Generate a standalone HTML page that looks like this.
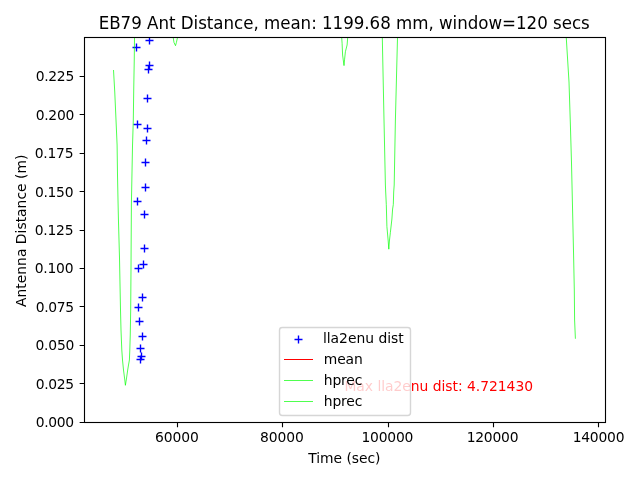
<!DOCTYPE html>
<html lang="en"><head><meta charset="utf-8"><title>EB79 Ant Distance</title>
<style>html,body{margin:0;padding:0;background:#fff;overflow:hidden}svg{display:block}text{font-family:"DejaVu Sans", "Liberation Sans", sans-serif;fill:#000}.t10{font-size:13.889px}.t12{font-size:16.667px}</style></head><body>
<svg width="640" height="480" viewBox="0 0 640 480">
<rect x="0" y="0" width="640" height="480" fill="#fff"/>
<defs><clipPath id="ax"><rect x="83.778" y="37.333" width="521.576" height="384.389"/></clipPath></defs>
<g clip-path="url(#ax)">
<path d="M145.50 40.50h8.000M149.50 36.50v8.000M132.50 47.50h8.000M136.50 43.50v8.000M145.50 65.50h8.000M149.50 61.50v8.000M144.50 69.50h8.000M148.50 65.50v8.000M143.50 98.50h8.000M147.50 94.50v8.000M133.50 124.50h8.000M137.50 120.50v8.000M143.50 128.50h8.000M147.50 124.50v8.000M142.50 140.50h8.000M146.50 136.50v8.000M141.50 162.50h8.000M145.50 158.50v8.000M141.50 187.50h8.000M145.50 183.50v8.000M133.50 201.50h8.000M137.50 197.50v8.000M140.50 214.50h8.000M144.50 210.50v8.000M140.50 248.50h8.000M144.50 244.50v8.000M139.50 264.50h8.000M143.50 260.50v8.000M134.50 268.50h8.000M138.50 264.50v8.000M138.50 297.50h8.000M142.50 293.50v8.000M134.50 307.50h8.000M138.50 303.50v8.000M135.50 321.50h8.000M139.50 317.50v8.000M138.50 336.50h8.000M142.50 332.50v8.000M136.50 348.50h8.000M140.50 344.50v8.000M137.50 356.50h8.000M141.50 352.50v8.000M136.50 359.50h8.000M140.50 355.50v8.000" stroke="#0000ff" stroke-width="1.389" fill="none"/>
<polyline points="113.50,70.00 114.75,92.00 116.00,120.00 117.10,145.00 117.50,175.00 118.00,200.00 118.40,218.00 119.50,258.00 120.50,310.00 121.00,330.00 121.80,350.00 122.50,360.00 123.50,370.00 124.80,380.00 125.40,385.30 126.25,380.00 127.70,370.00 128.50,365.00 129.40,360.00 129.80,350.00 130.25,335.00 130.70,310.00 131.00,268.00 131.40,204.00 132.50,146.00 133.30,120.00 133.75,88.00 134.25,60.00 134.50,37.50 134.70,20.00 172.90,30.00 173.20,37.50 174.00,42.50 175.50,45.70 176.40,42.50 177.50,37.50 177.90,30.00 341.30,30.00 341.70,37.50 342.10,43.30 342.60,55.00 344.00,65.60 344.60,59.20 345.40,51.70 347.10,45.00 347.70,37.50 348.00,30.00 382.00,25.00 382.30,37.50 384.00,120.00 385.40,185.00 385.70,192.00 386.30,204.60 386.90,226.50 388.20,241.00 388.80,249.20 389.40,241.00 390.40,232.30 391.90,219.00 392.60,209.00 393.30,204.60 393.70,192.00 394.20,185.00 395.40,120.00 397.50,37.50 397.80,25.00 566.00,25.00 566.25,37.50 569.00,82.00 570.40,125.00 571.50,163.00 572.80,220.00 573.70,260.00 574.30,290.00 574.60,320.00 575.40,338.75" fill="none" stroke="#00ff00" stroke-width="0.694" stroke-linejoin="round"/>
</g>
<text class="t10" text-anchor="start" transform="translate(344.41 390.50)" style="letter-spacing:-0.027px;fill:#ff0000">Max lla2enu dist: 4.721430</text>
<text class="t10" text-anchor="middle" transform="translate(176.88 441.73)" style="letter-spacing:-0.111px;">60000</text>
<text class="t10" text-anchor="middle" transform="translate(281.82 441.68)" style="letter-spacing:-0.095px;">80000</text>
<text class="t10" text-anchor="middle" transform="translate(387.30 441.66)" style="letter-spacing:-0.233px;">100000</text>
<text class="t10" text-anchor="middle" transform="translate(492.46 441.59)" style="letter-spacing:-0.217px;">120000</text>
<text class="t10" text-anchor="middle" transform="translate(598.48 441.57)" style="letter-spacing:-0.225px;">140000</text>
<text class="t10" text-anchor="end" transform="translate(73.63 426.71)" style="letter-spacing:-0.374px;">0.000</text>
<text class="t10" text-anchor="end" transform="translate(73.71 388.50)" style="letter-spacing:-0.338px;">0.025</text>
<text class="t10" text-anchor="end" transform="translate(74.09 349.83)" style="letter-spacing:-0.229px;">0.050</text>
<text class="t10" text-anchor="end" transform="translate(73.77 311.57)" style="letter-spacing:-0.317px;">0.075</text>
<text class="t10" text-anchor="end" transform="translate(73.27 272.88)" style="letter-spacing:-0.234px;">0.100</text>
<text class="t10" text-anchor="end" transform="translate(73.28 234.52)" style="letter-spacing:-0.244px;">0.125</text>
<text class="t10" text-anchor="end" transform="translate(73.20 196.90)" style="letter-spacing:-0.294px;">0.150</text>
<text class="t10" text-anchor="end" transform="translate(73.31 157.58)" style="letter-spacing:-0.237px;">0.175</text>
<text class="t10" text-anchor="end" transform="translate(73.98 119.57)" style="letter-spacing:-0.290px;">0.200</text>
<text class="t10" text-anchor="end" transform="translate(73.97 80.61)" style="letter-spacing:-0.281px;">0.225</text>
<path d="M177.5 422.5v4.861M282.5 422.5v4.861M388.5 422.5v4.861M493.5 422.5v4.861M598.5 422.5v4.861M84.5 422.5h-4.861M84.5 383.5h-4.861M84.5 345.5h-4.861M84.5 306.5h-4.861M84.5 268.5h-4.861M84.5 230.5h-4.861M84.5 191.5h-4.861M84.5 153.5h-4.861M84.5 114.5h-4.861M84.5 76.5h-4.861" stroke="#000" stroke-width="1.111" fill="none"/>
<rect x="84.5" y="37.5" width="521.0" height="385.0" fill="none" stroke="#000" stroke-width="1.111" stroke-linejoin="miter"/>
<text class="t10" text-anchor="middle" transform="translate(344.37 462.58)" style="letter-spacing:-0.044px;">Time (sec)</text>
<text class="t10" text-anchor="middle" transform="translate(25.51 230.81) rotate(-90)" style="letter-spacing:0.011px;">Antenna Distance (m)</text>
<text class="t12" text-anchor="middle" transform="translate(344.19 28.59) scale(1 1.0700)" style="letter-spacing:-0.020px;">EB79 Ant Distance, mean: 1199.68 mm, window=120 secs</text>
<rect x="279.5" y="327.5" width="131" height="88" rx="2.78" ry="2.78" fill="#fff" stroke="#ccc" stroke-width="1.389" opacity="0.8"/>
<path d="M294.50 339.50h8.000M298.50 335.50v8.000" stroke="#0000ff" stroke-width="1.389" fill="none"/>
<path d="M284 359.5H313" stroke="#ff0000" stroke-width="1" fill="none"/>
<path d="M284 380.5H313M284 401.5H313" stroke="#00ff00" stroke-width="0.694" fill="none"/>
<text class="t10" text-anchor="start" transform="translate(322.92 342.86)" style="letter-spacing:-0.014px;">lla2enu dist</text>
<text class="t10" text-anchor="start" transform="translate(323.82 363.55)" style="letter-spacing:-0.130px;">mean</text>
<text class="t10" text-anchor="start" transform="translate(323.82 384.97)" style="letter-spacing:-0.180px;">hprec</text>
<text class="t10" text-anchor="start" transform="translate(323.82 405.75)" style="letter-spacing:-0.180px;">hprec</text>
</svg></body></html>
